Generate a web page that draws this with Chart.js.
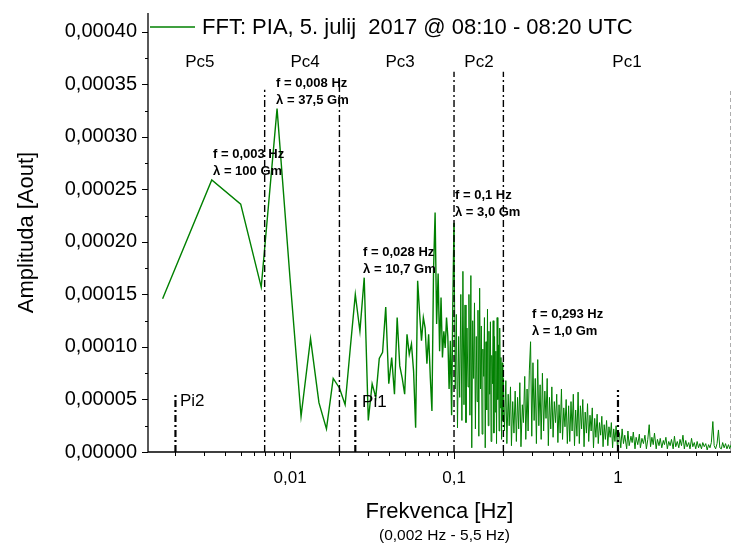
<!DOCTYPE html>
<html>
<head>
<meta charset="utf-8">
<script src="https://cdn.jsdelivr.net/npm/chart.js@4/dist/chart.umd.min.js"></script>
<style>
  html, body { margin: 0; padding: 0; background: #fff; }
</style>
</head>
<body>
<canvas id="fftChart" width="732" height="547"></canvas>
<script>
// amplitudes are in units of 1e-6 (Aout), frequencies in Hz
// 0.0017 - 0.1 Hz (single FFT bins, 1/600 s resolution)
const lowFreq = [
  0.00167, 0.00333, 0.005, 0.00667, 0.00833, 0.01, 0.01167, 0.01333, 0.015, 0.01667,
  0.01833, 0.02, 0.02167, 0.02333, 0.025, 0.02667, 0.02833, 0.03, 0.03167, 0.03333,
  0.035, 0.03667, 0.03833, 0.04, 0.04167, 0.04333, 0.045, 0.04667, 0.04833, 0.05,
  0.05167, 0.05333, 0.055, 0.05667, 0.05833, 0.06, 0.06167, 0.06333, 0.065, 0.06667,
  0.06833, 0.07, 0.07167, 0.07333, 0.075, 0.07667, 0.07833, 0.08, 0.08167, 0.08333,
  0.085, 0.08667, 0.08833, 0.09, 0.09167, 0.09333, 0.095, 0.09667, 0.09833, 0.1
];
const lowAmp = [
  146, 259, 236, 157, 327, 165, 34, 108, 47, 22,
  70, 61, 45, 100, 150, 115, 166, 30, 65, 52,
  89, 95, 138, 65, 90, 55, 128, 82, 70, 55,
  112, 93, 103, 77, 23, 163, 132, 106, 128, 118,
  84, 112, 71, 39, 173, 228, 122, 170, 96, 147,
  90, 115, 99, 128, 110, 60, 106, 35, 140, 218
];

// 0.1 - 0.2 Hz (Pc2)
const pc2Freq = [
  0.1017, 0.1033, 0.105, 0.1067, 0.1083, 0.11, 0.1117, 0.1133, 0.115, 0.1167,
  0.1183, 0.12, 0.1217, 0.1233, 0.125, 0.1267, 0.1283, 0.13, 0.1317, 0.1333,
  0.135, 0.1367, 0.1383, 0.14, 0.1417, 0.1433, 0.145, 0.1467, 0.1483, 0.15,
  0.1517, 0.1533, 0.155, 0.1567, 0.1583, 0.16, 0.1617, 0.1633, 0.165, 0.1667,
  0.1683, 0.17, 0.1717, 0.1733, 0.175, 0.1767, 0.1783, 0.18, 0.1817, 0.1833,
  0.185, 0.1867, 0.1883, 0.19, 0.1917, 0.1933, 0.195, 0.1967, 0.1983, 0.2
];
const pc2Amp = [
  60, 131, 23, 110, 52, 150, 30, 172, 45, 140,
  28, 118, 62, 150, 35, 168, 4, 125, 70, 142,
  22, 110, 48, 135, 15, 156, 60, 120, 17, 98,
  72, 128, 4, 105, 40, 136, 25, 115, 55, 124,
  10, 92, 65, 125, 18, 110, 38, 96, 8, 128,
  50, 102, 20, 118, 42, 90, 12, 85, 30, 70
];

// 0.2 - 0.5 Hz
const pc1aFreq = [
  0.203, 0.207, 0.210, 0.214, 0.217, 0.221, 0.224, 0.228, 0.232, 0.236,
  0.240, 0.244, 0.248, 0.252, 0.256, 0.261, 0.265, 0.270, 0.274, 0.279,
  0.283, 0.288, 0.293, 0.298, 0.303, 0.308, 0.313, 0.318, 0.324, 0.329,
  0.335, 0.340, 0.346, 0.352, 0.358, 0.364, 0.370, 0.376, 0.382, 0.389,
  0.395, 0.402, 0.409, 0.416, 0.423, 0.430, 0.437, 0.444, 0.452, 0.459,
  0.467, 0.475, 0.483, 0.491, 0.5
];
const pc1aAmp = [
  20, 68, 8, 55, 25, 62, 6, 48, 18, 58,
  10, 52, 22, 66, 5, 45, 28, 72, 12, 60,
  20, 78, 105, 15, 85, 30, 70, 8, 88, 25,
  64, 12, 75, 20, 58, 32, 70, 6, 52, 22,
  62, 14, 48, 28, 55, 9, 45, 18, 60, 12,
  42, 24, 50, 8, 44
];

// 0.5 - 1 Hz
const pc1bFreq = [
  0.508, 0.517, 0.525, 0.534, 0.543, 0.552, 0.562, 0.571, 0.581, 0.590,
  0.600, 0.610, 0.621, 0.631, 0.642, 0.652, 0.663, 0.675, 0.686, 0.697,
  0.709, 0.721, 0.733, 0.746, 0.758, 0.771, 0.784, 0.797, 0.811, 0.824,
  0.838, 0.852, 0.867, 0.881, 0.896, 0.911, 0.927, 0.942, 0.958, 0.974,
  0.991, 1.0
];
const pc1bAmp = [
  10, 48, 20, 55, 6, 40, 15, 57, 8, 44,
  22, 50, 5, 38, 18, 46, 10, 35, 20, 42,
  4, 32, 14, 36, 8, 28, 16, 34, 5, 26,
  12, 30, 6, 24, 14, 28, 4, 22, 10, 25,
  6, 20
];

// 1 - 5.5 Hz
const hiFreq = [
  1.02, 1.04, 1.06, 1.08, 1.10, 1.13, 1.15, 1.17, 1.20, 1.22,
  1.24, 1.27, 1.29, 1.32, 1.35, 1.37, 1.40, 1.43, 1.46, 1.49,
  1.52, 1.55, 1.58, 1.61, 1.64, 1.67, 1.71, 1.74, 1.78, 1.81,
  1.85, 1.89, 1.92, 1.96, 2.00, 2.04, 2.08, 2.12, 2.17, 2.21,
  2.25, 2.30, 2.35, 2.39, 2.44, 2.49, 2.54, 2.59, 2.64, 2.70,
  2.75, 2.81, 2.86, 2.92, 2.98, 3.04, 3.10, 3.16, 3.23, 3.29,
  3.36, 3.43, 3.50, 3.57, 3.64, 3.71, 3.79, 3.86, 3.94, 4.02,
  4.10, 4.18, 4.27, 4.35, 4.44, 4.53, 4.62, 4.72, 4.81, 4.91,
  5.01, 5.11, 5.21, 5.32, 5.43
];
const hiAmp = [
  18, 4, 22, 8, 16, 3, 20, 6, 15, 9,
  19, 3, 14, 7, 17, 4, 13, 8, 16, 3,
  12, 26, 5, 14, 7, 18, 3, 12, 6, 13,
  4, 11, 7, 14, 3, 10, 6, 12, 3, 15,
  5, 10, 4, 12, 6, 16, 3, 11, 5, 9,
  3, 13, 5, 9, 3, 10, 4, 8, 3, 9,
  5, 8, 2, 7, 4, 9, 29, 6, 3, 8,
  21, 4, 3, 9, 4, 8, 3, 7, 3, 8,
  4, 7, 3, 6, 4
];

// band borders (Pc5|Pc4|Pc3|Pc2|Pc1) and Pi markers
const pcBorderFreq = [0.007, 0.02, 0.1, 0.2];
const pcBorderTop = [345, 356, 362, 362];
const piMarkFreq = [0.002, 0.025, 1];
const piMarkTop = [56, 56, 59];

const yTickLabels = ['0,00000', '0,00005', '0,00010', '0,00015', '0,00020', '0,00025', '0,00030', '0,00035', '0,00040'];
const xTicks = [0.002, 0.003, 0.004, 0.005, 0.006, 0.007, 0.008, 0.009,
  0.01, 0.02, 0.03, 0.04, 0.05, 0.06, 0.07, 0.08, 0.09,
  0.1, 0.2, 0.3, 0.4, 0.5, 0.6, 0.7, 0.8, 0.9,
  1, 2, 3, 4];
const xMajor = { 0.01: '0,01', 0.1: '0,1', 1: '1' };

const bandLabels = [
  { text: 'Pc5', f: 0.00282 }, { text: 'Pc4', f: 0.01234 }, { text: 'Pc3', f: 0.0469 },
  { text: 'Pc2', f: 0.142 }, { text: 'Pc1', f: 1.135 }
];
const notes = [
  { f: 0.00339, a: 283, lines: ['f = 0,003 Hz', 'λ = 100 Gm'] },
  { f: 0.00822, a: 351, lines: ['f = 0,008 Hz', 'λ = 37,5 Gm'] },
  { f: 0.0279, a: 190, lines: ['f = 0,028 Hz', 'λ = 10,7 Gm'] },
  { f: 0.1014, a: 244, lines: ['f = 0,1 Hz', 'λ = 3,0 Gm'] },
  { f: 0.299, a: 131, lines: ['f = 0,293 Hz', 'λ = 1,0 Gm'] }
];
const piLabels = [{ text: 'Pi2', f: 0.00213, a: 48 }, { text: 'Pi1', f: 0.0275, a: 47 }];

const FONT = '"Liberation Sans", Arial, sans-serif';
const GREEN = '#008000';

const freqHz = [...lowFreq, ...pc2Freq, ...pc1aFreq, ...pc1bFreq, ...hiFreq];
const ampMicro = [...lowAmp, ...pc2Amp, ...pc1aAmp, ...pc1bAmp, ...hiAmp];

const datasets = [{
    label: 'FFT: PIA, 5. julij  2017 @ 08:10 - 08:20 UTC',
    data: freqHz.map((f, i) => ({ x: f, y: ampMicro[i] })),
    borderColor: GREEN,
    borderWidth: 1.4,
    segment: { borderWidth: c => (c.p0.parsed.x >= 0.1 ? 1 : 1.4) },
    pointRadius: 0,
    tension: 0,
    order: 3
}];
pcBorderFreq.forEach((f, i) => datasets.push({
    data: [{ x: f, y: 0 }, { x: f, y: pcBorderTop[i] }],
    borderColor: '#000', borderWidth: 1.4, borderDash: [7, 3, 2, 3],
    pointRadius: 0, order: 1
}));
piMarkFreq.forEach((f, i) => datasets.push({
    data: [{ x: f, y: 0 }, { x: f, y: piMarkTop[i] }],
    borderColor: '#000', borderWidth: 2.2, borderDash: [7, 3, 2, 3],
    pointRadius: 0, order: 1
}));
// right frame line
datasets.push({
    data: [{ x: 4.87, y: 0 }, { x: 4.87, y: 345 }],
    borderColor: '#999', borderWidth: 1, borderDash: [4, 3],
    pointRadius: 0, order: 2
});

const decor = {
    id: 'decor',
    afterDatasetsDraw(chart) {
        const { ctx, chartArea: area, scales: { x, y } } = chart;
        ctx.save();
        ctx.fillStyle = '#000';
        ctx.textBaseline = 'middle';

        // legend
        ctx.strokeStyle = GREEN;
        ctx.lineWidth = 1.3;
        ctx.beginPath();
        ctx.moveTo(area.left + 2, 27);
        ctx.lineTo(area.left + 47, 27);
        ctx.stroke();
        ctx.font = '22px ' + FONT;
        ctx.textAlign = 'left';
        ctx.fillText(datasets[0].label, area.left + 54, 28);

        ctx.font = '17px ' + FONT;
        ctx.textAlign = 'center';
        bandLabels.forEach(b => ctx.fillText(b.text, x.getPixelForValue(b.f), y.getPixelForValue(371)));

        ctx.textAlign = 'left';
        piLabels.forEach(p => ctx.fillText(p.text, x.getPixelForValue(p.f), y.getPixelForValue(p.a)));

        ctx.font = 'bold 13px ' + FONT;
        notes.forEach(n => {
            const px = x.getPixelForValue(n.f);
            const py = y.getPixelForValue(n.a);
            n.lines.forEach((t, i) => ctx.fillText(t, px, py + i * 17));
        });

        ctx.font = '15.5px ' + FONT;
        ctx.textAlign = 'center';
        ctx.fillText('(0,002 Hz - 5,5 Hz)', (area.left + area.right) / 2 + 5, 536);
        ctx.restore();
    },
    afterDraw(chart) {
        const { ctx, chartArea: area, scales: { x, y } } = chart;
        ctx.save();
        ctx.strokeStyle = '#000';
        ctx.lineWidth = 1.3;
        ctx.beginPath();
        ctx.moveTo(area.left, area.top);
        ctx.lineTo(area.left, area.bottom);
        ctx.lineTo(area.right, area.bottom);
        ctx.stroke();
        ctx.lineWidth = 1;
        ctx.beginPath();
        y.ticks.forEach(t => {
            const py = Math.round(y.getPixelForValue(t.value)) + 0.5;
            const len = t.value % 50 === 0 ? 6 : 3;
            ctx.moveTo(area.left - len, py);
            ctx.lineTo(area.left, py);
        });
        x.ticks.forEach(t => {
            const px = Math.round(x.getPixelForValue(t.value)) + 0.5;
            const len = xMajor[t.value] ? 7 : 4;
            ctx.moveTo(px, area.bottom);
            ctx.lineTo(px, area.bottom + len);
        });
        ctx.stroke();
        ctx.restore();
    }
};

new Chart(document.getElementById('fftChart'), {
    type: 'line',
    data: { datasets },
    plugins: [decor],
    options: {
        responsive: false,
        animation: false,
        layout: { padding: { top: 13, right: 1, left: 0, bottom: 0 } },
        plugins: { legend: { display: false }, tooltip: { enabled: false } },
        scales: {
            x: {
                type: 'logarithmic',
                min: 0.00136,
                max: 4.89,
                afterBuildTicks: s => { s.ticks = xTicks.map(v => ({ value: v })); },
                afterFit: s => { s.height = 95; s.paddingLeft = 0; s.paddingRight = 0; },
                grid: { display: false, drawTicks: false },
                border: { display: false },
                ticks: {
                    autoSkip: false, maxRotation: 0, padding: 16,
                    color: '#000', font: { family: FONT, size: 17 },
                    callback: (v, i) => xMajor[xTicks[i]] || ''
                },
                title: {
                    display: true, text: 'Frekvenca [Hz]', color: '#000',
                    font: { family: FONT, size: 22 }, padding: { top: 0, bottom: 22 }
                }
            },
            y: {
                min: 0,
                max: 418,
                afterFit: s => { s.width = 148; s.paddingTop = 0; s.paddingBottom = 0; },
                grid: { display: false, drawTicks: false },
                border: { display: false },
                ticks: {
                    stepSize: 25, includeBounds: false, padding: 11,
                    color: '#000', font: { family: FONT, size: 20 },
                    callback: v => (v % 50 === 0 ? yTickLabels[v / 50] : '')
                },
                title: {
                    display: true, text: 'Amplituda [Aout]', color: '#000',
                    font: { family: FONT, size: 22 }, padding: { top: 14, bottom: 0 }
                }
            }
        }
    }
});
</script>
</body>
</html>
